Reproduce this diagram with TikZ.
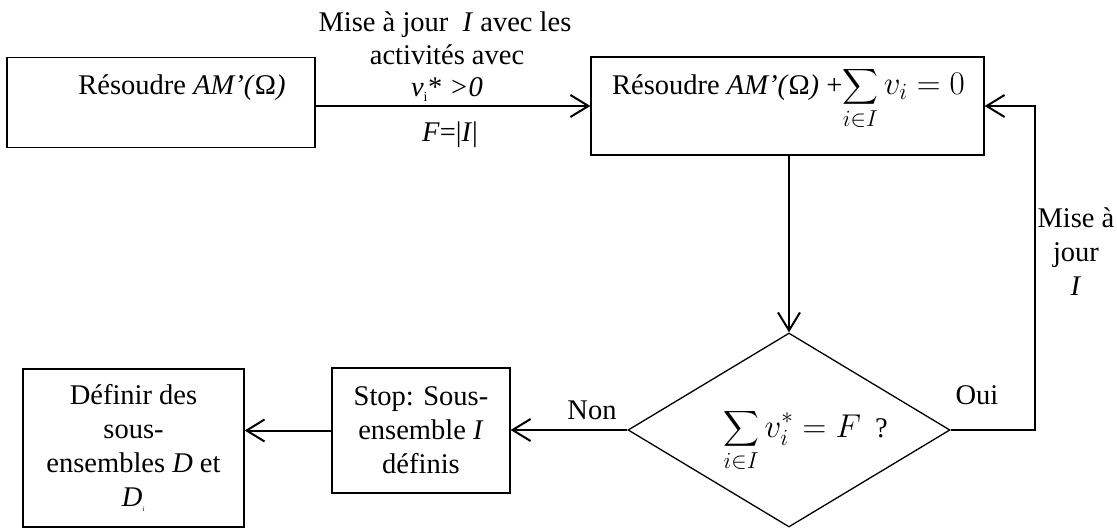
\RequirePackage{fix-cm}
\documentclass[tikz,border=0pt]{standalone}
\usepackage{exscale}
\usepackage{fontspec}
\setmainfont{Liberation Serif}
\usetikzlibrary{shapes.geometric,arrows.meta,calc}
\newcommand{\bigmath}[1]{{\fontsize{33}{40}\selectfont$\displaystyle #1$}}
\begin{document}
\begin{tikzpicture}[x=1pt,y=-1pt,
  box/.style={draw,line width=1.3pt,inner sep=0pt},
  arr/.style={line width=2pt,-{Straight Barb[length=18pt,width=22pt,line width=2pt]}},
  lbl/.style={font=\fontsize{28.5}{34}\selectfont,align=center,inner sep=0pt}]
\useasboundingbox (0,0) rectangle (1117,529);
% boxes
\node[box,minimum width=308pt,minimum height=90pt] (b1) at (161,102.5) {};
\node[lbl,anchor=base] (t1) at (182,95) {Résoudre \textit{AM’(}Ω\textit{)}};
\node[box,minimum width=393pt,minimum height=98pt] (b2) at (787.5,106) {};
\node[lbl,anchor=base west] (t2) at (612,95) {Résoudre \textit{AM’(}Ω\textit{)} +\bigmath{\sum_{i\in I} v_i = 0}};
\node[draw,diamond,line width=1.3pt,minimum width=322pt,minimum height=194pt,inner sep=0pt] (d) at (789,430) {};
\node[lbl,anchor=base west] (t3) at (723,437) {\bigmath{\sum_{i\in I} v_i^* = F}\ \ ?};
\node[box,lbl,minimum width=221pt,minimum height=158pt] (b3) at (133.5,448) {Définir des\\sous-\\ensembles \textit{D} et\\\textit{D}\textsubscript{\fontsize{7}{7}\selectfont\textit{i}}};
\node[box,lbl,minimum width=178pt,minimum height=125pt] (b4) at (421,430.5) {Stop: Sous-\\ensemble \textit{I}\\définis};
% labels
\node[lbl,anchor=base] (l1) at (445,32) {Mise à jour \ \textit{I} avec les};
\node[lbl,anchor=base] (l2) at (447,65) {activités avec};
\node[lbl,anchor=base] (l3) at (447,97) {\textit{v}\textsubscript{\fontsize{14}{14}\selectfont i}* \textit{>0}};
\node[lbl,anchor=base] (l4) at (450,142) {\textit{F}=|\textit{I}|};
\node[lbl] (l5) at (1076,252) {Mise à\\jour\\\textit{I}};
\node[lbl,anchor=base] (l6) at (977,404) {Oui};
\node[lbl,anchor=base] (l7) at (592,420) {Non};
% connectors
\coordinate (fb) at (1035,106);
\draw[arr] (b1.east |- b2.west) -- (b2.west);
\draw[arr] (d.north |- b2.south) -- (d.north);
\draw[arr] (d.west) -- (b4.east |- d.west);
\draw[arr] (b4.west) -- (b3.east |- b4.west);
\draw[arr] (d.east) -| (fb) -- (b2.east);
\end{tikzpicture}
\end{document}
